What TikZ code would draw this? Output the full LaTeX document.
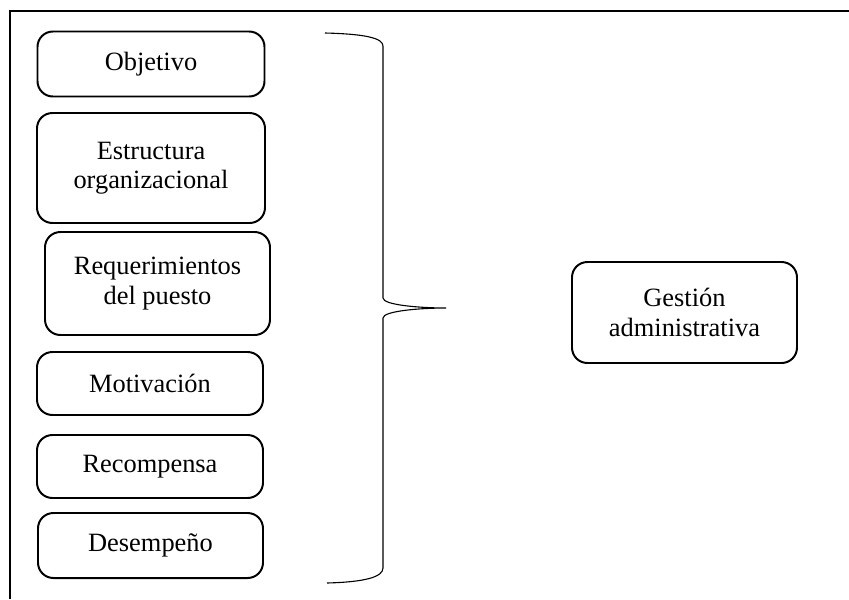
\documentclass[tikz,border=0pt]{standalone}
\usepackage{fontspec}
\setmainfont{Liberation Serif}
\usetikzlibrary{calc}

\begin{document}
\begin{tikzpicture}[x=0.4545pt,y=-0.4545pt,
	itembox/.style={draw, line width=0.9pt, rounded corners=7pt, align=center,
		inner sep=0pt, font=\fontsize{12}{13.4}\selectfont},
	bracestroke/.style={line width=0.5pt}]
% picture size
\useasboundingbox (0,0) rectangle (849,599);
% frame (top and left side)
\coordinate (framelow) at (10,599);
\coordinate (framecorner) at (10,11);
\coordinate (frameright) at (849,11);
\draw [line width=1pt] (framelow) -- (framecorner) -- (frameright);
% 1 - list of items
\node [itembox, minimum width=227*0.4545pt, minimum height=65*0.4545pt] (objetivo) at (151,64) {Objetivo};
\node [itembox, minimum width=228*0.4545pt, minimum height=110*0.4545pt] (estructura) at (151,168) {Estructura\\organizacional};
\node [itembox, minimum width=225*0.4545pt, minimum height=103*0.4545pt] (requerimientos) at (157.5,283.5) {Requerimientos\\del puesto};
\node [itembox, minimum width=226*0.4545pt, minimum height=63*0.4545pt] (motivacion) at (150,383.5) {Motivación};
\node [itembox, minimum width=226*0.4545pt, minimum height=63*0.4545pt] (recompensa) at (150,466.5) {Recompensa};
\node [itembox, minimum width=225*0.4545pt, minimum height=65*0.4545pt] (desempeno) at (150.5,545.5) {Desempeño};
% 2 - brace
\coordinate (bracetop) at (325,33);
\coordinate (bracetip) at (446,308);
\coordinate (bracebottom) at (327,583);
\draw [bracestroke] (bracetop) .. controls (365,34) and (383,38) .. (383,46)
	-- (383,298) .. controls (383,305) and (420,308) .. (bracetip)
	.. controls (420,308) and (383,311) .. (383,318)
	-- (383,568) .. controls (383,577) and (365,582) .. (bracebottom);
% 3 - result
\node [itembox, minimum width=225*0.4545pt, minimum height=101*0.4545pt] (gestion) at (684.5,312.5) {Gestión\\administrativa};
\end{tikzpicture}
\end{document}
